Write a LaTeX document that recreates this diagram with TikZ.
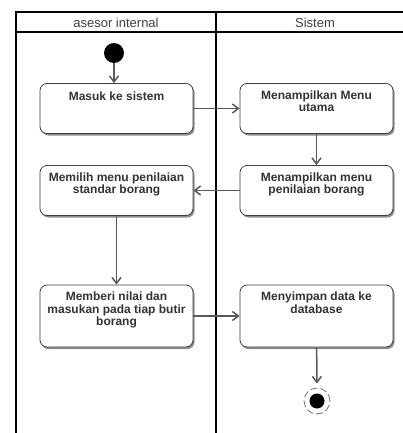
\documentclass[tikz,border=0pt]{standalone}
\usepackage{fontspec}
\setmainfont{Liberation Sans}
\usetikzlibrary{arrows.meta,shadows}

\begin{document}
\begin{tikzpicture}[
		x=1pt, y=-1pt,
		act/.style = {draw=black!75, line width=0.8pt, rounded corners=7pt, fill=white,
				minimum width=153pt, inner sep=0pt,
				drop shadow={shadow xshift=1.5pt, shadow yshift=-2pt, fill=black!45, opacity=1}},
		acttxt/.style = {anchor=north, align=center, inner xsep=0pt, inner ysep=7.5pt,
				text=black!80, font=\fontsize{12}{12.5}\selectfont\bfseries},
		lanehead/.style = {anchor=base, inner sep=0pt, text=black!75,
				font=\fontsize{13}{15}\selectfont},
		flow/.style = {-{Straight Barb[length=6pt,width=9pt]}, draw=black!65, line width=1.5pt},
	]
	\useasboundingbox (0,0) rectangle (403,433);
	\clip (0,0) rectangle (403,433);
	% swimlanes
	\draw[line width=1.2pt] (16,12) rectangle (420,32);
	\draw[line width=2.5pt] (16,32) -- (420,32);
	\draw[line width=2.2pt] (16,32) -- (16,440);
	\draw[line width=2.3pt] (216,12) -- (216,440);
	\node[lanehead] (lanea) at (116,28) {asesor internal};
	\node[lanehead] (laneb) at (315,28) {Sistem};

	% start and stop
	\node[circle, fill=black, minimum size=20pt, inner sep=0pt] (start) at (114,53) {};
	\node[circle, draw=black!55, line width=0.8pt, dash pattern=on 7pt off 3pt,
		minimum size=26pt, inner sep=0pt] (stop) at (317,401) {};
	\node[circle, fill=black, minimum size=15pt, inner sep=0pt] (stopcore) at (stop) {};

	% activities
	\node[act, minimum height=50pt] (masuk) at (116.5,108.5) {};
	\node[acttxt, yshift=-1.5pt] (masuktxt) at (masuk.north) {Masuk ke sistem};
	\node[act, minimum height=50pt] (menu) at (316.5,108.5) {};
	\node[acttxt] (menutxt) at (menu.north) {Menampilkan Menu\\utama};
	\node[act, minimum height=50pt] (penilaian) at (316.5,190.5) {};
	\node[acttxt] (penilaiantxt) at (penilaian.north) {Menampilkan menu\\penilaian borang};
	\node[act, minimum height=50pt] (memilih) at (116.5,190.5) {};
	\node[acttxt] (memilihtxt) at (memilih.north) {Memilih menu penilaian\\standar borang};
	\node[act, minimum height=62pt] (memberi) at (116.5,316) {};
	\node[acttxt] (memberitxt) at (memberi.north) {Memberi nilai dan\\masukan pada tiap butir\\borang};
	\node[act, minimum height=62pt] (simpan) at (316.5,316) {};
	\node[acttxt] (simpantxt) at (simpan.north) {Menyimpan data ke\\database};

	% flows
	\draw[flow] (start) -- (start |- masuk.north);
	\draw[flow] (masuk) -- (menu);
	\draw[flow] (menu) -- (penilaian);
	\draw[flow] (penilaian) -- (memilih);
	\draw[flow] (memilih) -- (memberi);
	\draw[flow] (memberi) -- (simpan);
	\draw[flow, shorten >=4pt] (simpan) -- (stop);
\end{tikzpicture}
\end{document}
